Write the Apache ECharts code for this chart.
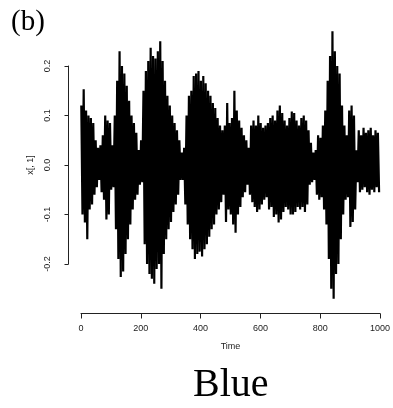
<!DOCTYPE html>
<html>
<head>
<meta charset="UTF-8">
<title>Blue</title>
<script src="https://cdn.jsdelivr.net/npm/echarts@6/dist/echarts.min.js"></script>
</head>
<body style="margin:0;background:#fff">
<div id="chart" style="width:393px;height:408px"></div>
<script>
// waveform samples, one every 4 time steps, in thousandths
var timeStart = 1;
var timeStep = 4;
var amp = [
  120, -100, 153, -116, 110,
  -150, 100, -90, 95, -80, 85,
  -60, 50, -45, 35, -30,
  40, -55, 60, -70,
  100, -110, 90, -100, 85,
  -50, 40, -45,
  100, -130, 170,
  -190, 230, -226, 200, -215, 185,
  -180, 160, -150, 130, -120,
  100, -90, 85, -70, 65, -60,
  30, -40, 50, -35,
  150, -160, 190, -200, 210,
  -220, 237, -230, 220, -240, 215,
  -210, 230, -200, 250, -250, 210,
  -180, 170, -150, 140, -130, 120, -115,
  100, -95, 85, -80, 70, -60, 50,
  -30, 25, -30, 35,
  -80, 100, -120, 140, -150, 150,
  -170, 180, -190, 185, -180, 190, -175, 170, -185, 180, -170, 165, -160,
  150, -145, 140, -130, 125, -120, 115,
  -100, 95, -90, 80, -75, 70, -60,
  80, -115, 125, -90, 85, -100, 95, -120, 150, -137, 110,
  -100, 90, -85, 75, -65, 60, -55, 50, -40, 35,
  -60, 80, -75, 90, -85, 80, -95, 100, -90, 85, -80, 75, -70, 80, -65,
  85, -90, 95, -85, 100, -105, 90, -100, 110, -116, 120, -110, 105, -95, 90,
  -85, 80, -90, 95, -100, 108, -100, 105, -95, 90, -85, 80, -90, 95, -85, 100, -95, 90, -80, 70,
  -40, 45, -35,
  25, -30, 30,
  -60, 60, -70, 55, -65,
  80, -90, 110, -120,
  170, -190, 220,
  -250, 270, -270,
  230, -220, 200, -200, 185,
  -150, 120, -100, 80,
  -70, 60, -65,
  110, -125, 120, -115, 100, -90,
  30, -35,
  70, -55, 60, -50, 75, -45, 65, -55, 70, -60, 75, -50, 60, -55, 70, -45, 65, -55
];
var xTicks = [0, 200, 400, 600, 800, 1000];
var yTicks = [-0.2, -0.1, 0, 0.1, 0.2];

var data = amp.map(function (v, i) {
  return [timeStart + timeStep * i, v / 1000];
});

var labelFont = {fontFamily: 'Liberation Sans', fontSize: 9, color: '#222'};
var myChart = echarts.init(document.getElementById('chart'));
var option = {
  animation: false,
  title: [
    {text: '(b)', left: 6, top: 3,
     textStyle: {fontFamily: 'Liberation Serif', fontSize: 29, fontWeight: 'normal', color: '#000'}},
    {text: 'Blue', left: 188, top: 360,
     textStyle: {fontFamily: 'Liberation Serif', fontSize: 40, fontWeight: 'normal', color: '#000'}}
  ],
  grid: [
    {left: 81, right: 11, top: 16.5, height: 297},
    {left: 68.5, top: 66, width: 1, height: 198}
  ],
  xAxis: [
    {
      type: 'value', gridIndex: 0, min: xTicks[0], max: xTicks[xTicks.length - 1], interval: 200,
      name: 'Time', nameLocation: 'middle', nameGap: 29,
      nameTextStyle: labelFont,
      axisLine: {onZero: false, lineStyle: {color: '#222', width: 1}},
      axisTick: {length: 5, lineStyle: {color: '#222'}},
      axisLabel: Object.assign({margin: 11, formatter: function (v) { return String(v); }}, labelFont),
      splitLine: {show: false}
    },
    {type: 'value', gridIndex: 1, min: 0, max: 1, show: false}
  ],
  yAxis: [
    {type: 'value', gridIndex: 0, min: -0.3, max: 0.3, show: false},
    {
      type: 'value', gridIndex: 1, min: yTicks[0], max: yTicks[yTicks.length - 1], interval: 0.1,
      name: 'x[, 1]', nameLocation: 'middle', nameGap: 33,
      nameTextStyle: labelFont,
      axisLine: {show: true, onZero: false, lineStyle: {color: '#222', width: 1}},
      axisTick: {show: true, length: 4, lineStyle: {color: '#222'}},
      axisLabel: Object.assign({
        margin: 16, rotate: 90,
        formatter: function (v) { return Math.abs(v) < 1e-9 ? '0.0' : v.toFixed(1); }
      }, labelFont),
      splitLine: {show: false}
    }
  ],
  series: [
    {
      type: 'line', xAxisIndex: 0, yAxisIndex: 0,
      data: data, showSymbol: false, sampling: null,
      lineStyle: {color: '#000', width: 2.2}
    }
  ]
};
myChart.setOption(option);
</script>
</body>
</html>
